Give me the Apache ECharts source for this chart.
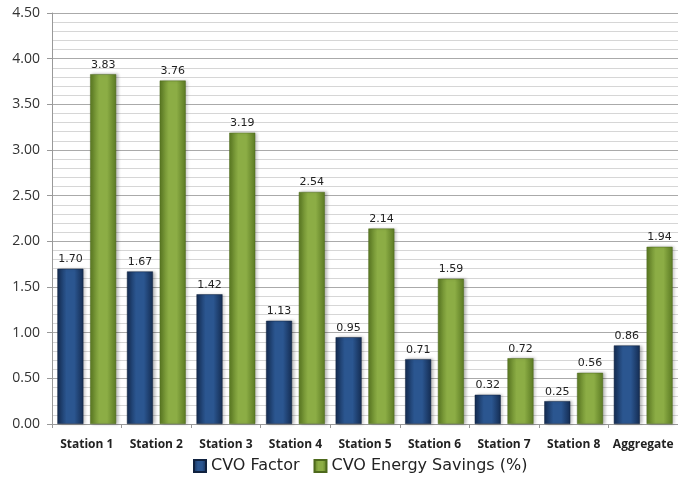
<!DOCTYPE html>
<html>
<head>
<meta charset="utf-8">
<script src="https://cdn.jsdelivr.net/npm/echarts@6/dist/echarts.min.js"></script>
<style>
html, body { margin: 0; padding: 0; background: #fff; }
#main { width: 678px; height: 483px; }
</style>
</head>
<body>
<div id="main"></div>
<script>
var myChart = echarts.init(document.getElementById('main'));

var categories = ['Station 1', 'Station 2', 'Station 3', 'Station 4', 'Station 5', 'Station 6', 'Station 7', 'Station 8', 'Aggregate'];
var cvoFactor = [1.70, 1.67, 1.42, 1.13, 0.95, 0.71, 0.32, 0.25, 0.86];
var energySavings = [3.83, 3.76, 3.19, 2.54, 2.14, 1.59, 0.72, 0.56, 1.94];
var seriesNames = ['CVO Factor', 'CVO Energy Savings (%)'];

// 柱子的立体渐变
function barGradient(edge, mid) {
	return new echarts.graphic.LinearGradient(0, 0, 1, 0, [
		{ offset: 0, color: edge },
		{ offset: 0.35, color: mid },
		{ offset: 0.65, color: mid },
		{ offset: 1, color: edge }
	]);
}

var labelStyle = {
	show: true,
	position: 'top',
	distance: 4,
	color: '#222',
	fontSize: 11,
	fontFamily: 'DejaVu Sans',
	formatter: function (p) { return p.value.toFixed(2); }
};

option = {
	backgroundColor: '#fff',
	animation: false,
	grid: { left: 52, right: -5, top: 13, bottom: 59 },
	legend: {
		bottom: 4,
		left: 188,
		itemWidth: 12,
		itemHeight: 12,
		itemGap: 14,
		icon: 'rect',
		textStyle: { fontSize: 16, color: '#222', fontFamily: 'DejaVu Sans' },
		data: seriesNames
	},
	xAxis: {
		type: 'category',
		data: categories,
		axisLine: { lineStyle: { color: '#999' } },
		axisTick: { show: true, alignWithLabel: false, length: 4, lineStyle: { color: '#999' } },
		axisLabel: { interval: 0, color: '#222', fontSize: 12, fontWeight: 'bold', margin: 15, fontFamily: 'Open Sans' }
	},
	yAxis: {
		type: 'value',
		min: 0,
		max: 4.5,
		interval: 0.5,
		axisLine: { show: true, lineStyle: { color: '#999' } },
		axisTick: { show: true, length: 5, lineStyle: { color: '#999' } },
		axisLabel: {
			color: '#333', fontSize: 14, margin: 12, fontFamily: 'Open Sans',
			formatter: function (v) { return v.toFixed(2); }
		},
		splitLine: { lineStyle: { color: '#aaa' } },
		minorTick: { show: false, splitNumber: 5 },
		minorSplitLine: { show: true, lineStyle: { color: '#d6d6d6' } }
	},
	series: [
		{
			name: seriesNames[0],
			type: 'bar',
			data: cvoFactor,
			barWidth: 26,
			barGap: '26%',
			itemStyle: {
				color: barGradient('#142c52', '#2b5690'),
				borderColor: '#10223f',
				borderWidth: 0.5,
				shadowColor: 'rgba(0,0,0,0.25)',
				shadowBlur: 3,
				shadowOffsetX: 2
			},
			label: labelStyle
		},
		{
			name: seriesNames[1],
			type: 'bar',
			data: energySavings,
			barWidth: 26,
			itemStyle: {
				color: barGradient('#5b7a23', '#8cad45'),
				borderColor: '#4d691c',
				borderWidth: 0.5,
				shadowColor: 'rgba(0,0,0,0.25)',
				shadowBlur: 3,
				shadowOffsetX: 2
			},
			label: labelStyle
		}
	]
};

myChart.setOption(option);
</script>
</body>
</html>
